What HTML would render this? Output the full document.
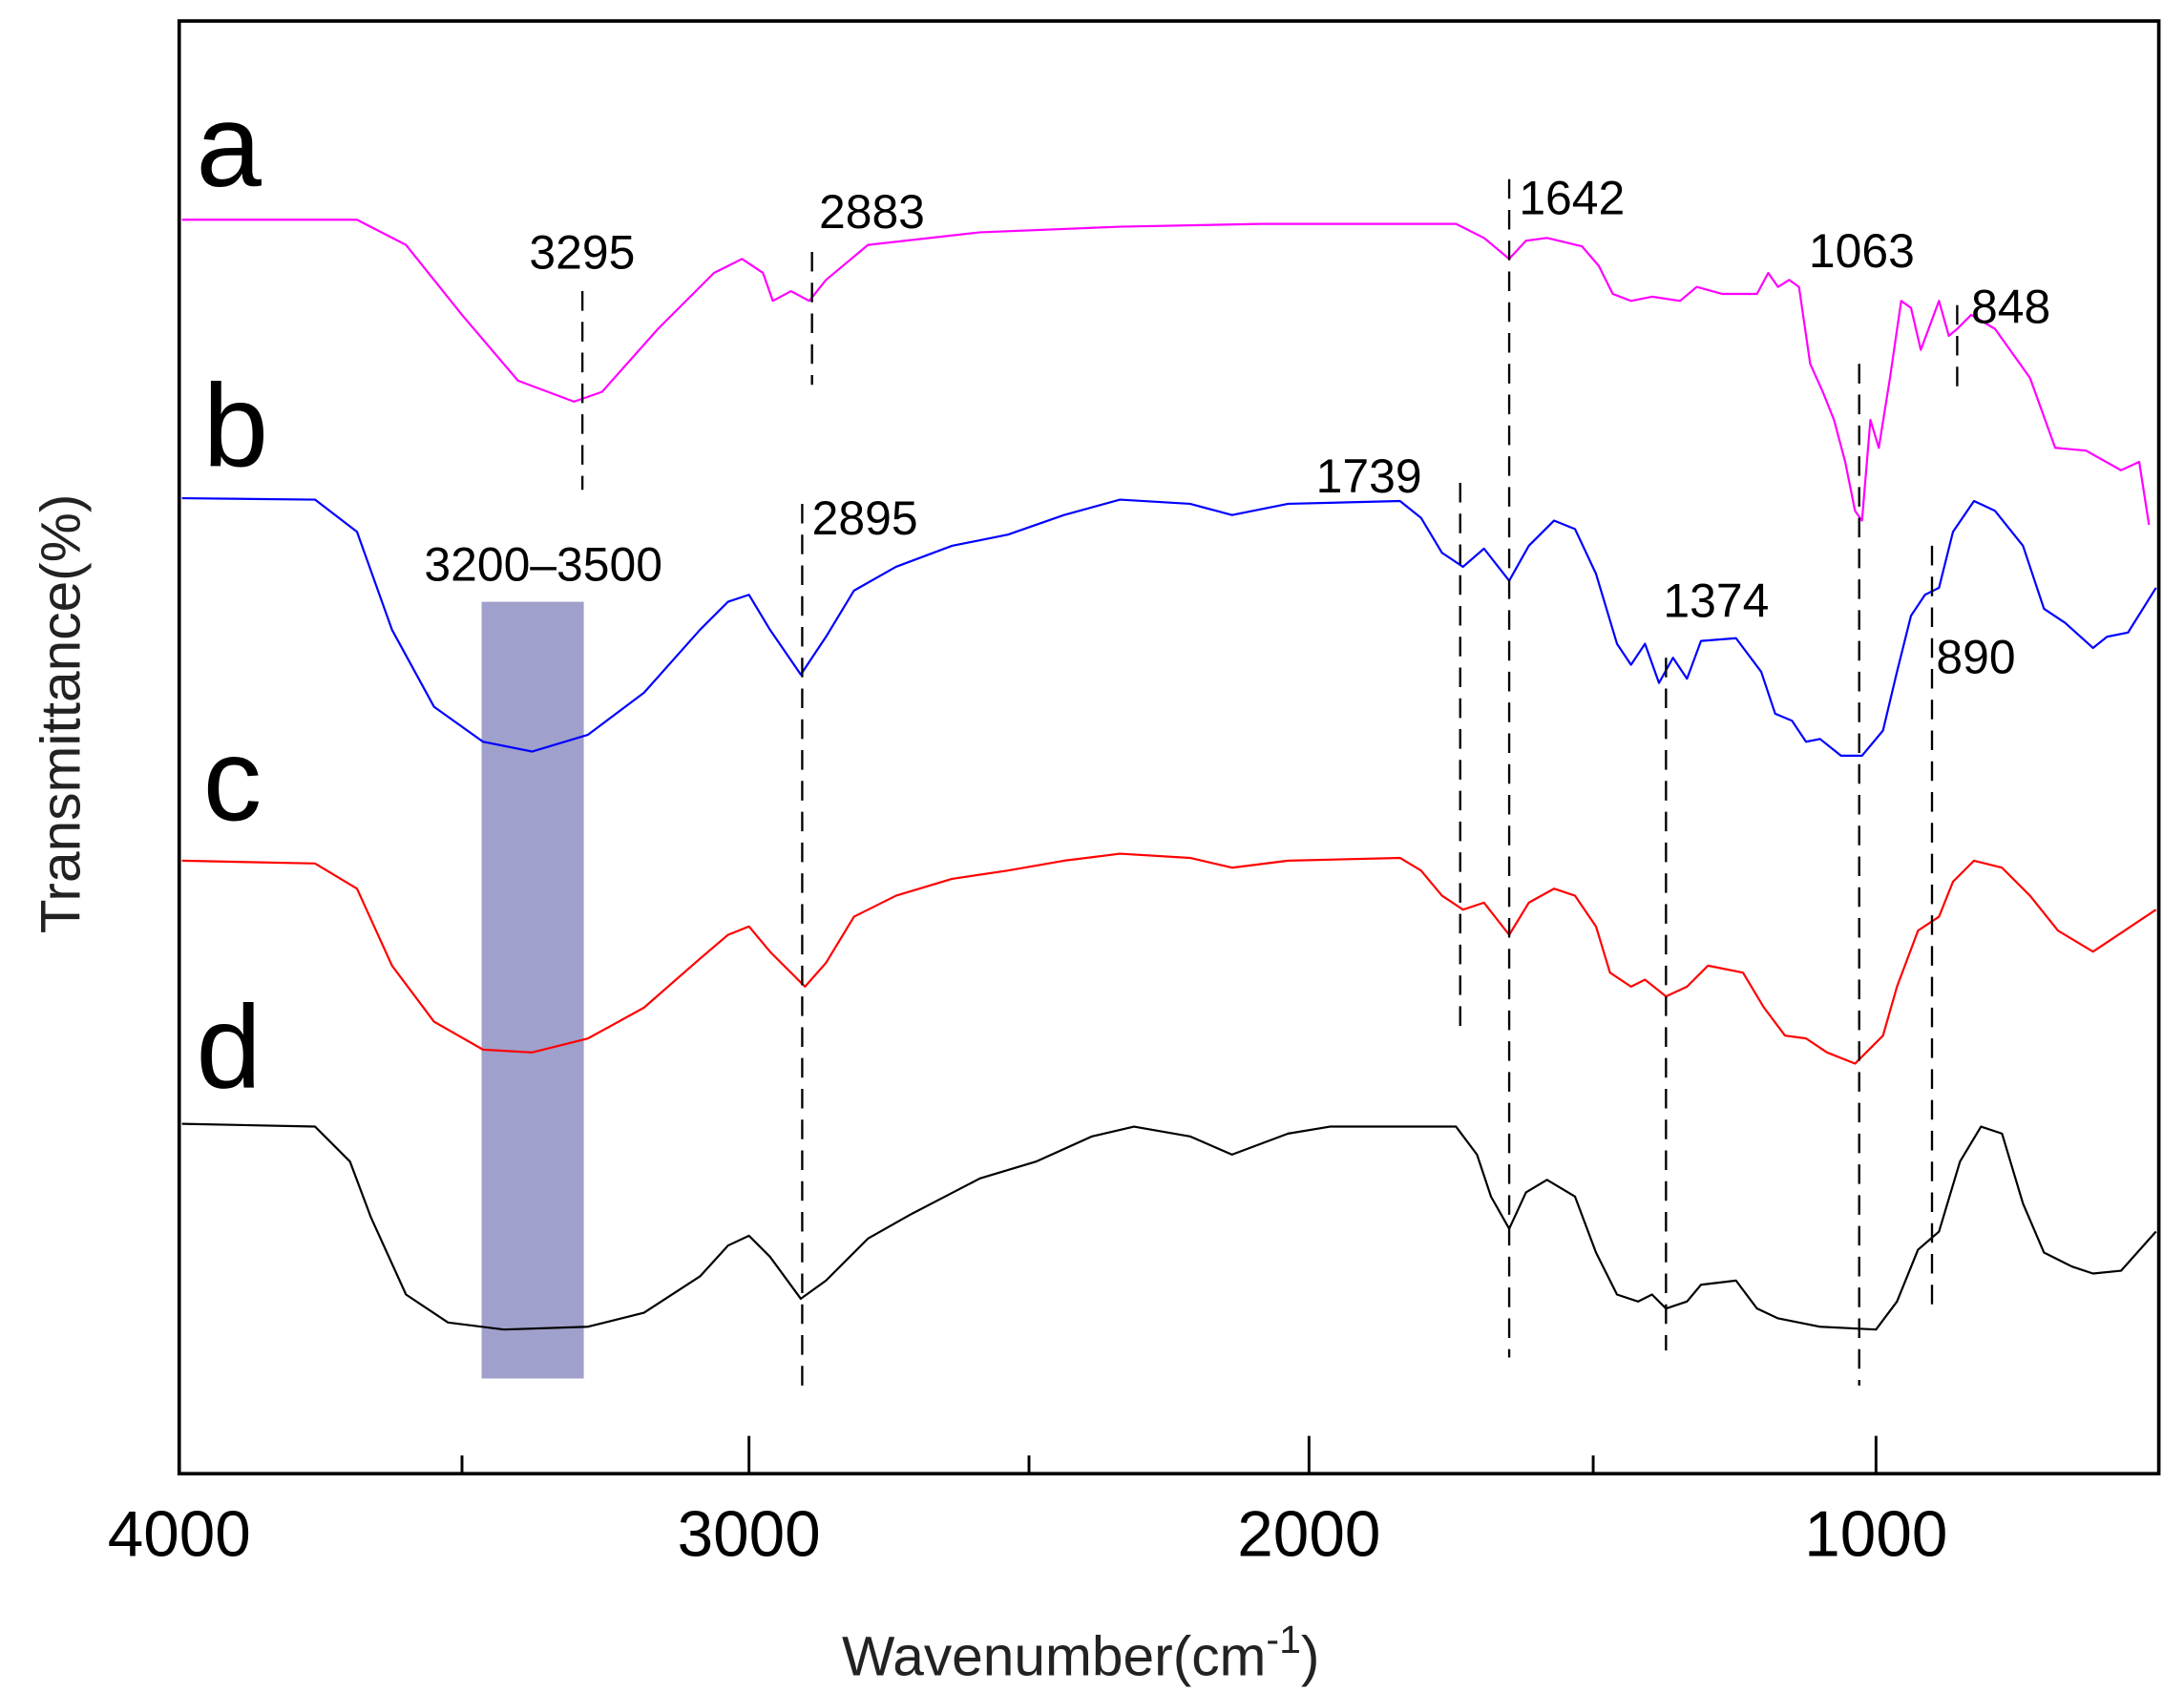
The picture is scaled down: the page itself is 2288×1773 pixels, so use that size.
<!DOCTYPE html>
<html><head><meta charset="utf-8"><style>
html,body{margin:0;padding:0;background:#fff;}
svg{display:block;}
text{font-family:"Liberation Sans",sans-serif;}
</style></head><body>
<svg width="2288" height="1773" viewBox="0 0 1560 1209" preserveAspectRatio="none" xmlns="http://www.w3.org/2000/svg">
<rect x="0" y="0" width="1560" height="1209" fill="#fff"/>
<rect x="344" y="430" width="73" height="555" fill="#a0a0cc"/>
<g fill="none" stroke-width="1.5" stroke-linejoin="round">
<polyline stroke="#ff00ff" points="130,157 255,157 290,175 330,225 370,272 410,287 430,280 470,235 510,195 530,185 545,195 552,215 565,208 578,215 590,200 620,175 700,166 800,162 900,160 1040,160 1060,170 1078,185 1090,172 1105,170 1130,176 1142,190 1152,210 1165,215 1180,212 1200,215 1212,205 1230,210 1255,210 1263,195 1270,205 1278,200 1285,205 1293,260 1302,280 1310,300 1318,330 1325,365 1330,372 1336,300 1342,320 1350,270 1358,215 1365,220 1372,250 1385,215 1392,240 1398,235 1408,225 1425,235 1450,270 1468,320 1490,322 1515,336 1528,330 1535,375"/>
<polyline stroke="#0000ff" points="130,356 225,357 255,380 280,450 310,505 345,530 380,537 420,525 460,495 500,450 520,430 535,425 550,450 572,482 590,455 610,422 640,405 680,390 720,382 760,368 800,357 850,360 880,368 920,360 1000,358 1015,370 1030,395 1045,405 1060,392 1078,415 1092,390 1110,372 1125,378 1140,410 1155,460 1165,475 1175,460 1185,488 1195,470 1205,485 1215,458 1240,456 1258,480 1268,510 1280,515 1290,530 1300,528 1315,540 1330,540 1345,522 1355,480 1365,440 1375,425 1385,420 1395,380 1410,358 1425,365 1445,390 1460,435 1475,445 1495,463 1505,455 1520,452 1540,420"/>
<polyline stroke="#ff0000" points="130,615 225,617 255,635 280,690 310,730 345,750 380,752 420,742 460,720 500,685 520,668 535,662 550,680 575,705 590,688 610,655 640,640 680,628 720,622 760,615 800,610 850,613 880,620 920,615 1000,613 1015,622 1030,640 1045,650 1060,645 1078,668 1092,645 1110,635 1125,640 1140,662 1150,695 1165,705 1175,700 1190,712 1205,705 1220,690 1245,695 1260,720 1275,740 1290,742 1305,752 1325,760 1345,740 1355,705 1370,665 1385,655 1395,630 1410,615 1430,620 1450,640 1470,665 1495,680 1510,670 1540,650"/>
<polyline stroke="#000000" points="130,803 225,805 250,830 265,870 290,925 320,945 360,950 420,948 460,938 500,912 520,890 535,883 550,898 572,928 590,915 620,885 650,868 700,842 740,830 780,812 810,805 850,812 880,825 920,810 950,805 1040,805 1055,825 1065,855 1078,878 1090,852 1105,843 1125,855 1140,895 1155,925 1170,930 1180,925 1190,935 1205,930 1215,918 1240,915 1255,935 1270,942 1300,948 1340,950 1355,930 1370,893 1385,880 1400,830 1415,805 1430,810 1445,860 1460,895 1480,905 1495,910 1515,908 1540,880"/>
</g>
<g stroke="#000" stroke-width="1.6" stroke-dasharray="14,8" fill="none">
<line x1="416" y1="208" x2="416" y2="350"/>
<line x1="580" y1="180" x2="580" y2="275"/>
<line x1="1078" y1="128" x2="1078" y2="970"/>
<line x1="1328" y1="260" x2="1328" y2="990"/>
<line x1="1398" y1="218" x2="1398" y2="280"/>
<line x1="573" y1="360" x2="573" y2="990"/>
<line x1="1043" y1="345" x2="1043" y2="735"/>
<line x1="1190" y1="470" x2="1190" y2="965"/>
<line x1="1380" y1="390" x2="1380" y2="940"/>
</g>
<rect x="128" y="15" width="1414" height="1038" fill="none" stroke="#000" stroke-width="2.5"/>
<g stroke="#000" stroke-width="2">
<line x1="330" y1="1053" x2="330" y2="1040"/><line x1="535" y1="1053" x2="535" y2="1026"/>
<line x1="735" y1="1053" x2="735" y2="1040"/><line x1="935" y1="1053" x2="935" y2="1026"/>
<line x1="1138" y1="1053" x2="1138" y2="1040"/><line x1="1340" y1="1053" x2="1340" y2="1026"/>
</g>
<g font-size="34" fill="#000">
<text x="378" y="192">3295</text><text x="585" y="163">2883</text>
<text x="1085" y="153">1642</text><text x="1292" y="191">1063</text>
<text x="1408" y="231">848</text><text x="940" y="352">1739</text>
<text x="580" y="382">2895</text><text x="303" y="415">3200–3500</text>
<text x="1188" y="441">1374</text><text x="1383" y="481">890</text>
</g>
<g font-size="84" fill="#000">
<text x="140" y="133">a</text><text x="145" y="333">b</text>
<text x="145" y="586">c</text><text x="140" y="777">d</text>
</g>
<g font-size="46" fill="#000" text-anchor="middle">
<text x="128" y="1112">4000</text><text x="535" y="1112">3000</text>
<text x="935" y="1112">2000</text><text x="1340" y="1112">1000</text>
</g>
<text x="772" y="1197" font-size="40" text-anchor="middle" fill="#222">Wavenumber(cm<tspan dy="-16" font-size="28">-1</tspan><tspan dy="16">)</tspan></text>
<text transform="translate(57,510) rotate(-90)" font-size="40" text-anchor="middle" fill="#222">Transmittance(%)</text>
</svg>
</body></html>
